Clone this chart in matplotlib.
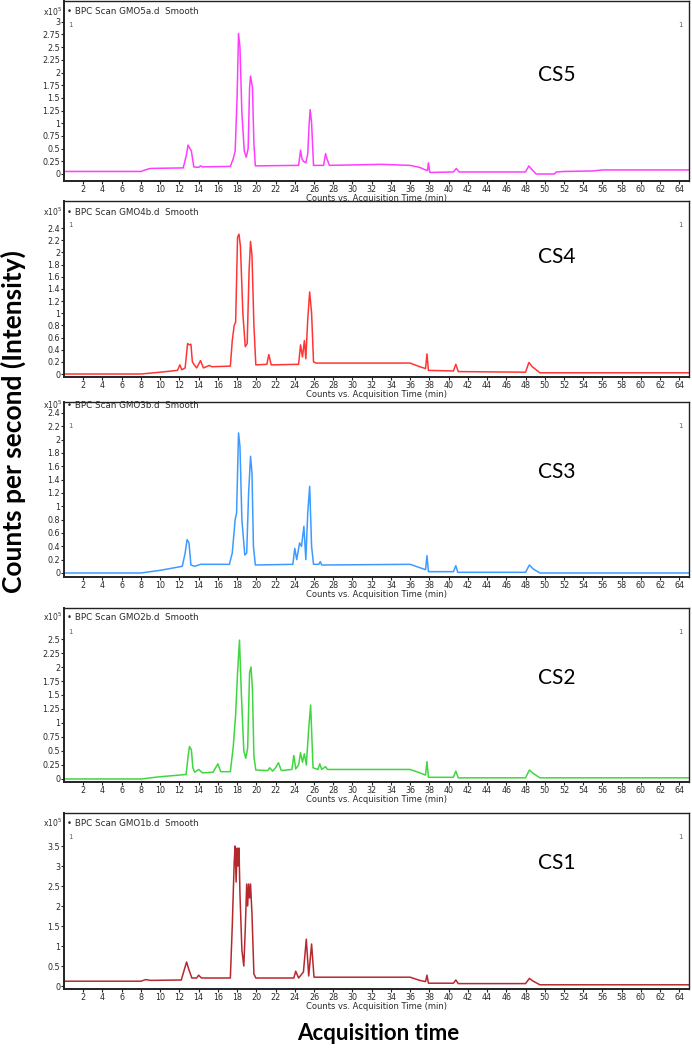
import matplotlib
matplotlib.use('Agg')
import matplotlib.pyplot as plt
from matplotlib.ticker import FixedLocator, FixedFormatter

# (time in min, counts x10^5)
cs5 = [(0, 0.05), (8.0, 0.05), (8.6, 0.09), (9.0, 0.11), (12.4, 0.12), (12.7, 0.35), (12.9, 0.57),
       (13.1, 0.5), (13.25, 0.45), (13.5, 0.14), (14.0, 0.13), (14.2, 0.16), (14.4, 0.14), (17.3, 0.15),
       (17.6, 0.3), (17.8, 0.45), (18.0, 1.5), (18.15, 2.77), (18.3, 2.5), (18.5, 1.2), (18.75, 0.45),
       (18.95, 0.33), (19.15, 0.5), (19.3, 1.7), (19.4, 1.93), (19.6, 1.7), (19.75, 0.6), (19.9, 0.16),
       (24.4, 0.17), (24.6, 0.47), (24.75, 0.3), (24.9, 0.25), (25.15, 0.22), (25.35, 0.4), (25.5, 1.0),
       (25.6, 1.27), (25.75, 1.0), (25.95, 0.17), (27.0, 0.17), (27.2, 0.4), (27.35, 0.3), (27.6, 0.17),
       (33.0, 0.19), (36.0, 0.17), (37.0, 0.13), (37.6, 0.08), (37.8, 0.07), (37.9, 0.22), (38.05, 0.03),
       (40.5, 0.04), (40.8, 0.11), (41.1, 0.04), (48.0, 0.04), (48.35, 0.16), (48.6, 0.1), (49.1, 0.0),
       (51.0, 0.0), (51.2, 0.04), (52.0, 0.05), (55.0, 0.06), (56.0, 0.08), (65.0, 0.08)]

cs4 = [(0, 0.0), (8.0, 0.0), (10.0, 0.03), (11.8, 0.06), (12.05, 0.15), (12.25, 0.07), (12.6, 0.1),
       (12.85, 0.5), (13.05, 0.48), (13.2, 0.49), (13.35, 0.2), (13.55, 0.15), (13.8, 0.1), (14.2, 0.22),
       (14.5, 0.1), (15.1, 0.14), (15.4, 0.12), (17.3, 0.13), (17.5, 0.55), (17.7, 0.8), (17.85, 0.85),
       (18.05, 2.25), (18.2, 2.3), (18.35, 2.1), (18.6, 1.0), (18.85, 0.45), (19.05, 0.5), (19.25, 1.7),
       (19.4, 2.18), (19.55, 1.95), (19.75, 0.8), (19.95, 0.15), (21.1, 0.16), (21.3, 0.32), (21.55, 0.15),
       (24.4, 0.16), (24.6, 0.48), (24.8, 0.28), (25.0, 0.55), (25.15, 0.25), (25.35, 0.9), (25.55, 1.35),
       (25.75, 1.0), (25.95, 0.2), (26.2, 0.18), (36.0, 0.18), (37.0, 0.12), (37.6, 0.09), (37.75, 0.33),
       (37.9, 0.06), (40.5, 0.05), (40.75, 0.16), (41.0, 0.04), (48.0, 0.03), (48.35, 0.19), (48.7, 0.12),
       (49.5, 0.02), (65.0, 0.02)]

cs3 = [(0, 0.0), (8.0, 0.0), (10.0, 0.04), (12.3, 0.1), (12.6, 0.3), (12.8, 0.5), (13.0, 0.45),
       (13.2, 0.12), (13.6, 0.1), (14.2, 0.13), (17.2, 0.13), (17.5, 0.3), (17.8, 0.8), (17.95, 0.9),
       (18.15, 2.1), (18.3, 1.9), (18.5, 0.8), (18.8, 0.27), (19.0, 0.3), (19.2, 1.2), (19.4, 1.75),
       (19.55, 1.5), (19.7, 0.4), (19.9, 0.12), (23.8, 0.13), (24.0, 0.37), (24.2, 0.2), (24.5, 0.45),
       (24.7, 0.4), (24.95, 0.7), (25.15, 0.2), (25.35, 0.9), (25.55, 1.3), (25.75, 0.4), (25.95, 0.13),
       (26.5, 0.13), (26.65, 0.17), (26.8, 0.12), (36.0, 0.13), (37.0, 0.08), (37.6, 0.05), (37.75, 0.26),
       (37.9, 0.02), (40.5, 0.02), (40.75, 0.11), (40.95, 0.01), (48.0, 0.01), (48.4, 0.12), (48.8, 0.06),
       (49.5, 0.0), (65.0, 0.0)]

cs2 = [(0, 0.0), (8.0, 0.0), (10.0, 0.04), (12.7, 0.08), (12.9, 0.4), (13.05, 0.58), (13.25, 0.52),
       (13.4, 0.2), (13.6, 0.12), (14.0, 0.17), (14.4, 0.11), (15.5, 0.12), (16.0, 0.27), (16.3, 0.13),
       (17.3, 0.13), (17.6, 0.57), (17.85, 1.15), (18.05, 1.9), (18.25, 2.48), (18.45, 1.5), (18.7, 0.5),
       (18.9, 0.37), (19.1, 0.55), (19.3, 1.9), (19.45, 2.0), (19.6, 1.6), (19.75, 0.4), (19.95, 0.16),
       (21.2, 0.15), (21.4, 0.2), (21.7, 0.14), (22.0, 0.2), (22.3, 0.29), (22.6, 0.15), (23.7, 0.17),
       (23.9, 0.42), (24.1, 0.18), (24.4, 0.25), (24.6, 0.47), (24.8, 0.3), (25.0, 0.45), (25.2, 0.25),
       (25.45, 0.9), (25.65, 1.32), (25.9, 0.2), (26.4, 0.17), (26.6, 0.27), (26.8, 0.17), (27.2, 0.22),
       (27.4, 0.17), (36.0, 0.17), (37.0, 0.11), (37.6, 0.07), (37.75, 0.31), (37.9, 0.03), (40.5, 0.03),
       (40.75, 0.14), (41.0, 0.02), (48.0, 0.02), (48.4, 0.16), (48.8, 0.1), (49.5, 0.02), (65.0, 0.02)]

cs1 = [(0, 0.12), (8.0, 0.12), (8.5, 0.16), (9.0, 0.14), (12.2, 0.15), (12.5, 0.4), (12.75, 0.6),
       (13.0, 0.4), (13.3, 0.2), (13.8, 0.2), (14.0, 0.27), (14.3, 0.2), (17.3, 0.2), (17.5, 1.5),
       (17.7, 3.1), (17.8, 3.5), (17.9, 2.6), (18.0, 3.45), (18.1, 3.0), (18.2, 3.45), (18.3, 2.3),
       (18.5, 0.9), (18.7, 0.5), (18.85, 1.4), (19.0, 2.55), (19.1, 2.0), (19.2, 2.55), (19.3, 2.2),
       (19.4, 2.55), (19.55, 1.8), (19.75, 0.3), (19.95, 0.2), (23.9, 0.2), (24.1, 0.37), (24.4, 0.2),
       (24.9, 0.35), (25.2, 1.17), (25.45, 0.25), (25.75, 1.05), (26.0, 0.22), (36.0, 0.22), (37.0, 0.14),
       (37.6, 0.11), (37.75, 0.27), (37.9, 0.07), (40.5, 0.07), (40.75, 0.15), (41.0, 0.06), (48.0, 0.06),
       (48.4, 0.19), (48.8, 0.12), (49.5, 0.03), (65.0, 0.03)]

traces = [cs5, cs4, cs3, cs2, cs1]
labels = ['CS5', 'CS4', 'CS3', 'CS2', 'CS1']
files = ['GMO5a.d', 'GMO4b.d', 'GMO3b.d', 'GMO2b.d', 'GMO1b.d']
colors = ['#ff3dff', '#ff3535', '#3d9bff', '#40d640', '#b5292e']
yticks = [
    [0, 0.25, 0.5, 0.75, 1, 1.25, 1.5, 1.75, 2, 2.25, 2.5, 2.75, 3],
    [0, 0.2, 0.4, 0.6, 0.8, 1, 1.2, 1.4, 1.6, 1.8, 2, 2.2, 2.4],
    [0, 0.2, 0.4, 0.6, 0.8, 1, 1.2, 1.4, 1.6, 1.8, 2, 2.2, 2.4],
    [0, 0.25, 0.5, 0.75, 1, 1.25, 1.5, 1.75, 2, 2.25, 2.5],
    [0, 0.5, 1, 1.5, 2, 2.5, 3, 3.5],
]
xticks = list(range(2, 65, 2))

# layout in pixels of the 692x1050 picture
W, H = 692, 1050
boxes = [(1, 181), (201, 377), (402, 577), (608, 782), (813, 989)]
ylims = [(-0.138, 3.41), (-0.049, 2.845), (-0.06, 2.564), (-0.054, 3.054), (-0.075, 4.325)]
head_dy = [11, 11, 3, 9, 10]
cs_y = [75, 257, 472, 678, 863]

fig = plt.figure(figsize=(W / 100, H / 100), dpi=100)
tick_col = '#2a2a2a'

for i in range(5):
    top, bot = boxes[i]
    ax = fig.add_axes([64 / W, 1 - bot / H, 625 / W, (bot - top) / H])
    t, y = zip(*traces[i])
    ax.plot(t, y, color=colors[i], lw=1.1)
    ax.set_xlim(0, 65)
    ax.set_ylim(*ylims[i])

    ax.xaxis.set_major_locator(FixedLocator(xticks))
    ax.set_xticklabels([str(v) for v in xticks])
    ax.yaxis.set_major_locator(FixedLocator(yticks[i]))
    ax.yaxis.set_major_formatter(FixedFormatter(['%g' % v for v in yticks[i]]))
    ax.tick_params(axis='both', labelsize=5.8, colors='#222222', labelcolor=tick_col,
                   length=2, width=0.8, pad=0.8)
    for s in ax.spines.values():
        s.set_linewidth(1.0)
        s.set_color('#222222')
    ax.spines['left'].set_linewidth(1.4)
    ax.spines['bottom'].set_linewidth(1.4)

    h = bot - top
    ax.text(-0.003, 1 - head_dy[i] / h, 'x10$^{5}$', transform=ax.transAxes, ha='right', va='center',
            fontsize=5.5, color=tick_col)
    ax.text(0.005, 1 - head_dy[i] / h, '\u2022 BPC Scan ' + files[i] + '  Smooth',
            transform=ax.transAxes, ha='left', va='center', fontsize=6.3, color=tick_col)
    ax.text(0.006, 1 - 24 / h, '1', transform=ax.transAxes, ha='left', va='center',
            fontsize=5, color='#666666')
    ax.text(0.99, 1 - 24 / h, '1', transform=ax.transAxes, ha='right', va='center',
            fontsize=5, color='#666666')
    ax.text(0.5, -17.5 / h, 'Counts vs. Acquisition Time (min)', transform=ax.transAxes,
            ha='center', va='center', fontsize=6, color=tick_col)
    fig.text(557 / W, 1 - cs_y[i] / H, labels[i], ha='center', va='center',
             fontsize=15, family=['Lato', 'DejaVu Sans'], color='black')

fig.text(13 / W, 1 - 422 / H, 'Counts per second (Intensity)', rotation=90, ha='center', va='center',
         fontsize=19, fontweight='bold', family=['Lato', 'DejaVu Sans'])
fig.text(378 / W, 1 - 1033 / H, 'Acquisition time', ha='center', va='center',
         fontsize=16, fontweight='bold', family=['Lato', 'DejaVu Sans'])

fig.savefig('out.png', dpi=100)
